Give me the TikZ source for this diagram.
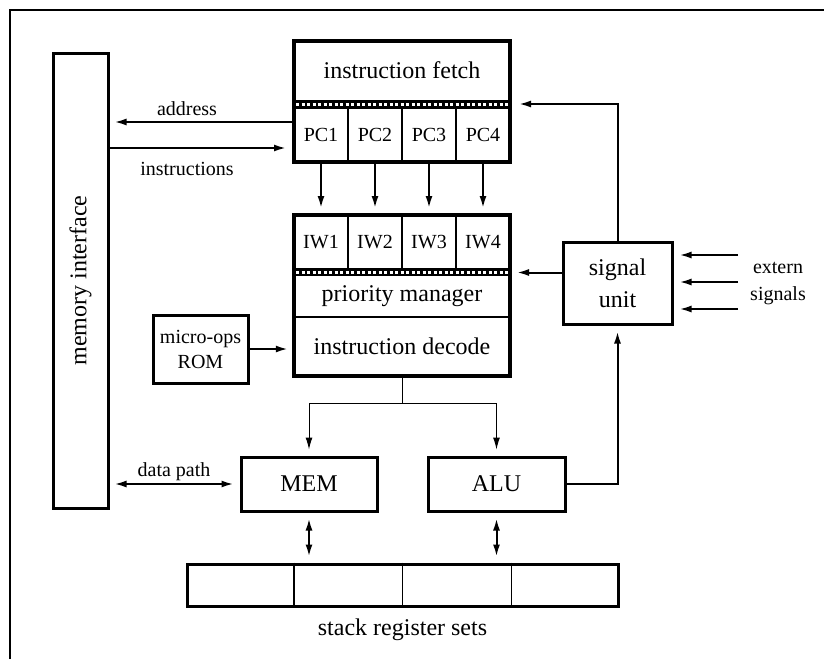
\documentclass[tikz,border=0pt]{standalone}
\usepackage{fontspec}
\setmainfont{Liberation Serif}
\usetikzlibrary{arrows.meta,calc}
\begin{document}
\begin{tikzpicture}[x=1pt,y=-1pt,
  big/.style={font=\fontsize{24}{28}\selectfont},
  small/.style={font=\fontsize{20}{25}\selectfont},
  box/.style={draw,line width=3pt,inner sep=0pt},
  plain/.style={inner sep=0pt},
  cellbox/.style={draw,line width=2pt,inner sep=0pt,minimum width=54pt,minimum height=54pt},
  tip/.tip={Latex[length=12pt,width=7pt]},
  arr/.style={line width=2pt,-tip,shorten >=6pt},
  thinarr/.style={line width=1pt,-tip,shorten >=6pt},
  dbl/.style={line width=2pt,tip-tip,shorten >=6pt,shorten <=6pt},
  band/.style={white,line width=3pt,dash pattern=on 3pt off 2.5pt},
]
\useasboundingbox (0,0) rectangle (824,659);
\draw[line width=2pt] (10,659) -- (10,10) -- (824,10);

% memory interface
\node[box,minimum width=55pt,minimum height=455pt] (memif) at (80.5,280.5) {};
\node[big,rotate=90] (memiftxt) at (memif.center) {memory interface};

% instruction fetch unit with program counters
\foreach \i/\x in {1/321,2/375,3/429,4/483}
  \node[cellbox,small] (pc\i) at (\x,135) {PC\i};
\node[plain,big,minimum width=216pt,minimum height=59pt] (fetch) at (402,70) {instruction fetch};
\fill (294,100) rectangle (510,108);
\draw[band] (296,104) -- (508,104);
\node[box,line width=4pt,minimum width=216pt,minimum height=121pt] (ifu) at (402,101.5) {};

% instruction windows, priority manager and decoder
\foreach \i/\x in {1/321,2/375,3/429,4/483}
  \node[cellbox,small] (iw\i) at (\x,242) {IW\i};
\fill (294,269) rectangle (510,276);
\draw[band] (296,272.5) -- (508,272.5);
\node[plain,big,minimum width=216pt,minimum height=41pt] (prio) at (402,296.5) {priority manager};
\draw[line width=1.5pt] (prio.south west) -- (prio.south east);
\node[plain,big,minimum width=216pt,minimum height=59pt] (dec) at (402,346.5) {instruction decode};
\node[box,line width=4pt,minimum width=216pt,minimum height=161pt] (iwu) at (402,295.5) {};

% side units
\node[box,font=\fontsize{24}{32}\selectfont,align=center,minimum width=109pt,minimum height=82pt] (sig) at (617.5,283) {signal\\unit};
\node[box,font=\fontsize{20}{25}\selectfont,align=center,minimum width=95pt,minimum height=68pt] (rom) at (200.5,349) {micro-ops\\ROM};

% execution units
\node[box,big,minimum width=136pt,minimum height=54pt] (mem) at (309,484) {MEM};
\node[box,big,minimum width=137pt,minimum height=54pt] (alu) at (496.5,484) {ALU};

% stack register sets
\node[box,minimum width=431pt,minimum height=42pt] (stack) at (402.5,585) {};
\draw[line width=2pt] ($(stack.north west)!0.25!(stack.north east)$) -- ($(stack.south west)!0.25!(stack.south east)$);
\draw[line width=1pt] ($(stack.north west)!0.5!(stack.north east)$) -- ($(stack.south west)!0.5!(stack.south east)$);
\draw[line width=1pt] ($(stack.north west)!0.75!(stack.north east)$) -- ($(stack.south west)!0.75!(stack.south east)$);
\node[big] (stacktxt) at (402.5,630) {stack register sets};

% address / instruction buses
\coordinate (ya) at (0,122);
\coordinate (yi) at (0,148);
\draw[arr,shorten >=5pt] (ifu.west |- ya) -- (memif.east |- ya);
\draw[arr] (memif.east |- yi) -- (ifu.west |- yi);
\node[small] (addrtxt) at (187,109) {address};
\node[small] (instrtxt) at (187,169) {instructions};

% PC -> IW
\foreach \i in {1,...,4}
  \draw[arr] (pc\i.south) -- (iw\i.north);

% signal unit connections
\coordinate (yb1) at (0,104);
\coordinate (yb2) at (0,272.5);
\draw[arr,shorten >=7pt] (sig.north) |- (ifu.east |- yb1);
\draw[arr,shorten >=5pt] (sig.west |- yb2) -- (iwu.east |- yb2);
\foreach \y [count=\k] in {255,282,309} {
  \coordinate (ext\k) at (738,\y);
  \draw[arr] (ext\k) -- (sig.east |- ext\k);
}
\node[font=\fontsize{20}{27}\selectfont,align=center] (exttxt) at (778,283.5) {extern\\signals};
\draw[arr] (alu.east) -| (sig.south);

% decoder to execution units
\coordinate (ys) at (0,403);
\coordinate (split) at (dec.south |- ys);
\draw[line width=1pt] (dec.south) -- (split);
\draw[thinarr] (split) -| (mem.north);
\draw[thinarr] (split) -| (alu.north);

% micro-ops ROM to decoder
\draw[arr] (rom.east) -- (rom.east -| dec.west);

% data paths
\draw[dbl,shorten <=5pt] (memif.east |- mem.west) -- (mem.west);
\node[small] (dptxt) at (174,472) {data path};
\draw[dbl] (mem.south) -- (mem.south |- stack.north);
\draw[dbl] (alu.south) -- (alu.south |- stack.north);
\end{tikzpicture}
\end{document}
